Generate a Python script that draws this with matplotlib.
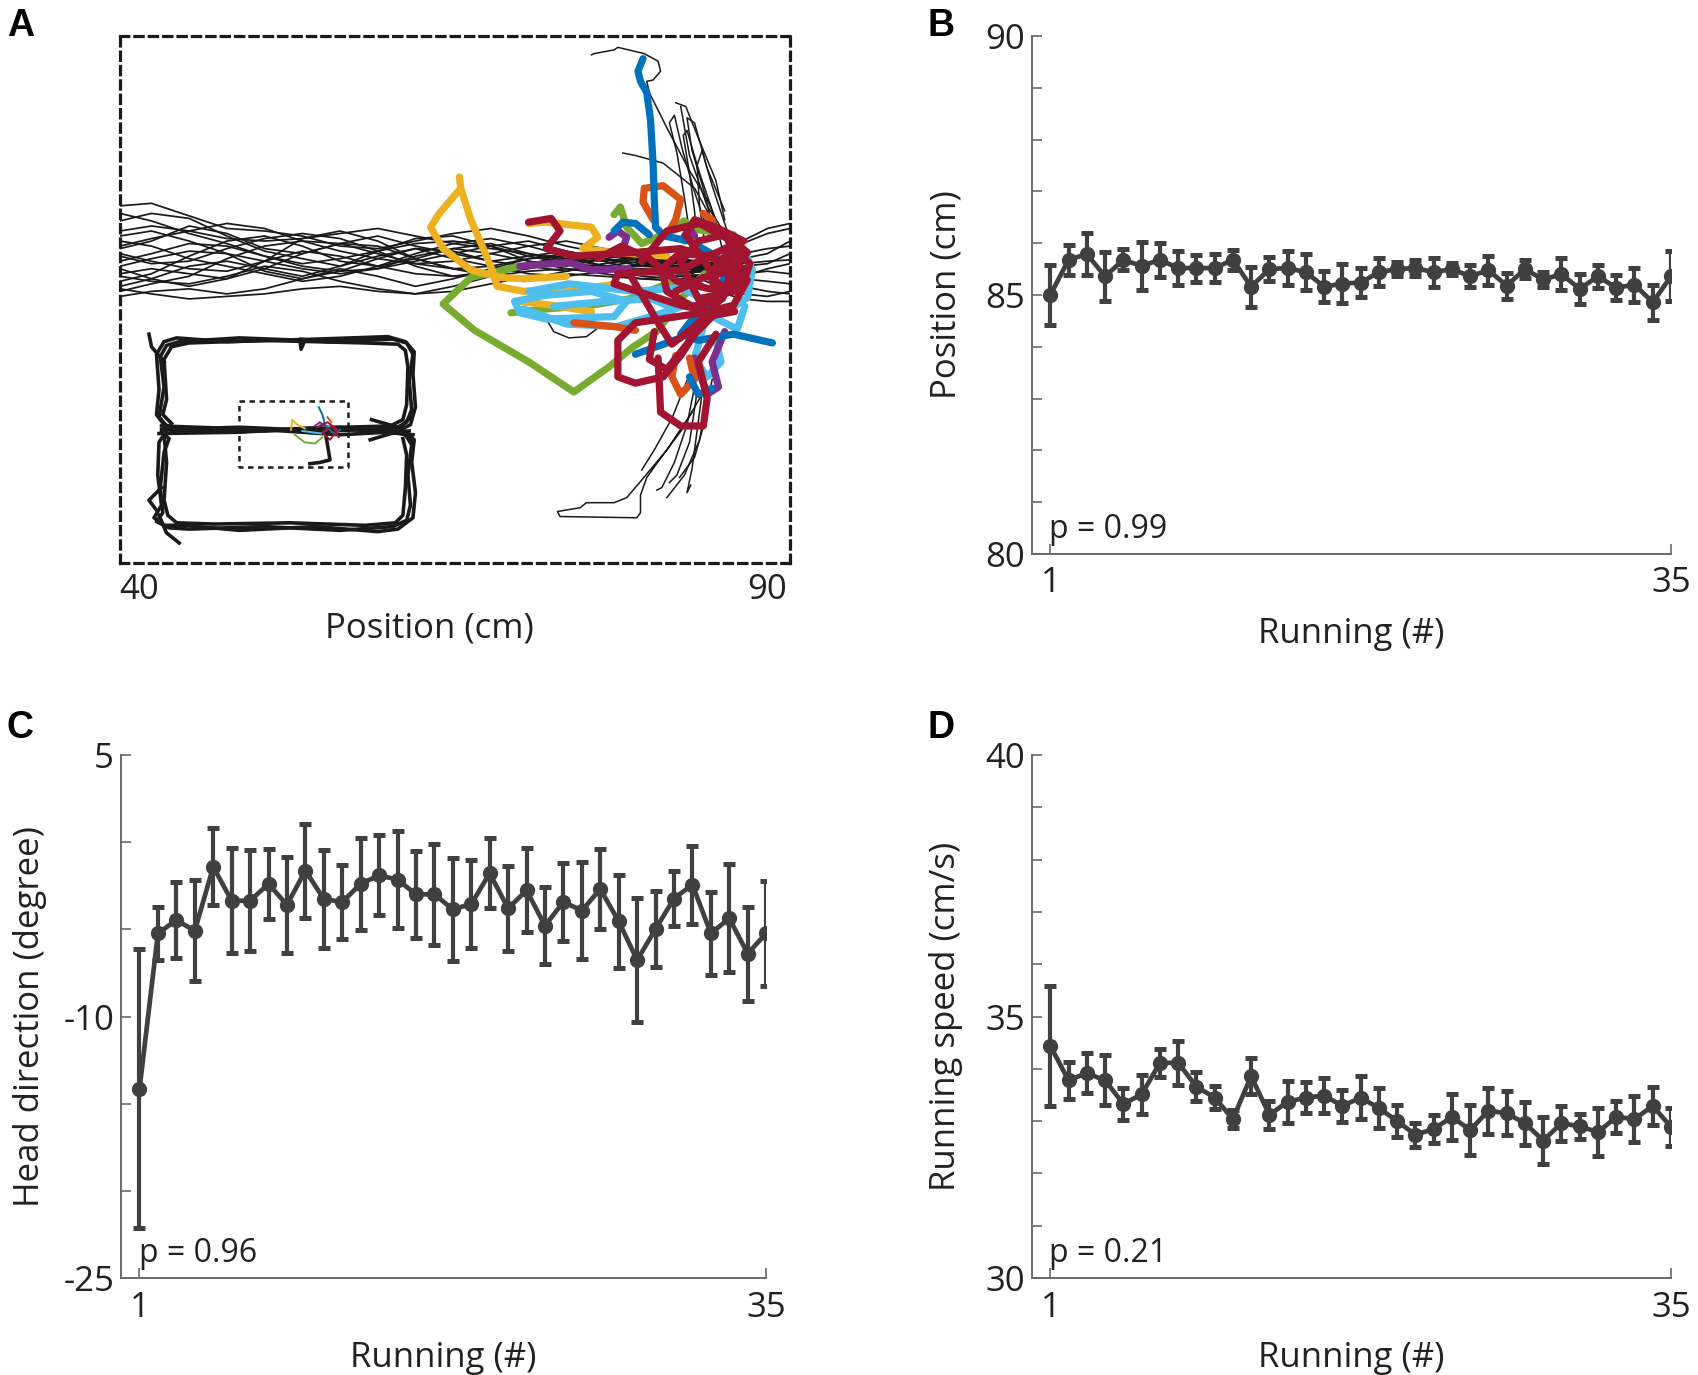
import matplotlib.pyplot as plt

plt.rcParams['font.family'] = ['Open Sans', 'DejaVu Sans']

# ---------------- data: panels B-D (mean +/- sem per run) ----------------
runs = list(range(1, 36))

pos_mean = [85.0, 85.68, 85.79, 85.36, 85.68, 85.56, 85.68, 85.52, 85.52, 85.52,
            85.68, 85.16, 85.5, 85.52, 85.44, 85.16, 85.22, 85.24, 85.44, 85.5,
            85.52, 85.44, 85.5, 85.36, 85.48, 85.18, 85.5, 85.3, 85.4, 85.12,
            85.36, 85.14, 85.2, 84.86, 85.36]
pos_err = [0.57, 0.29, 0.41, 0.47, 0.2, 0.46, 0.33, 0.33, 0.26, 0.27,
           0.19, 0.39, 0.23, 0.33, 0.35, 0.3, 0.38, 0.28, 0.27, 0.13,
           0.16, 0.28, 0.12, 0.21, 0.28, 0.25, 0.18, 0.15, 0.31, 0.29,
           0.22, 0.24, 0.33, 0.34, 0.48]

head_mean = [-14.15, -5.23, -4.47, -5.08, -1.41, -3.36, -3.36, -2.39, -3.6, -1.63,
             -3.26, -3.43, -2.39, -1.9, -2.15, -2.99, -2.99, -3.85, -3.55, -1.78,
             -3.8, -2.76, -4.79, -3.43, -3.92, -2.69, -4.54, -6.76, -4.98, -3.23,
             -2.44, -5.23, -4.37, -6.39, -5.23]
head_err = [8.0, 1.5, 2.2, 2.9, 2.2, 3.0, 2.9, 2.0, 2.75, 2.7,
            2.8, 2.15, 2.65, 2.3, 2.8, 2.5, 2.9, 2.95, 2.5, 2.0,
            2.45, 2.4, 2.2, 2.25, 2.8, 2.3, 2.65, 3.55, 2.2, 1.55,
            2.25, 2.4, 3.1, 2.7, 3.0]

speed_mean = [34.44, 33.78, 33.92, 33.78, 33.33, 33.51, 34.11, 34.12, 33.66, 33.45,
              33.04, 33.86, 33.12, 33.37, 33.45, 33.49, 33.29, 33.45, 33.25, 33.0,
              32.74, 32.85, 33.08, 32.83, 33.2, 33.15, 32.96, 32.63, 32.96, 32.9,
              32.79, 33.08, 33.04, 33.29, 32.89]
speed_err = [1.15, 0.35, 0.38, 0.48, 0.31, 0.37, 0.27, 0.42, 0.28, 0.22,
             0.18, 0.35, 0.27, 0.4, 0.3, 0.33, 0.31, 0.41, 0.38, 0.3,
             0.23, 0.27, 0.44, 0.47, 0.44, 0.42, 0.41, 0.45, 0.33, 0.24,
             0.46, 0.31, 0.44, 0.36, 0.37]

# ---------------- data: panel A trajectories (cm) ----------------
# black runs along the central corridor, sampled at band_x
band_x = [38.5, 41, 44, 47, 50, 53, 56, 59, 62, 65, 68, 71, 74, 77, 80, 83, 86]
band_y = [
    [25.0, 25.6, 26.8, 26.2, 25.0, 24.6, 25.4, 26.0, 25.2, 24.6, 24.0, 24.4, 24.8, 24.2, 23.8, 23.6, 23.4],
    [22.4, 23.0, 24.4, 25.6, 26.0, 25.2, 24.0, 23.6, 24.2, 25.0, 25.4, 24.6, 23.8, 23.6, 24.0, 23.8, 23.2],
    [27.2, 27.8, 27.4, 26.0, 24.8, 24.2, 23.6, 24.4, 25.0, 24.8, 24.0, 23.6, 23.2, 23.8, 24.4, 24.0, 23.6],
    [21.6, 22.2, 22.8, 24.2, 25.2, 25.6, 25.4, 24.6, 23.8, 23.4, 23.6, 24.2, 24.6, 24.0, 23.2, 23.0, 23.3],
    [24.0, 24.6, 25.4, 25.2, 24.4, 23.6, 23.2, 23.4, 24.0, 24.6, 25.2, 25.6, 24.8, 24.2, 23.6, 23.4, 23.5],
    [28.4, 28.6, 27.6, 26.6, 26.4, 26.0, 25.2, 25.0, 25.6, 26.2, 26.6, 26.0, 25.2, 24.6, 24.2, 23.8, 23.6],
    [23.0, 23.4, 23.0, 22.6, 23.4, 24.6, 25.4, 25.2, 24.2, 23.4, 22.8, 22.6, 23.2, 23.8, 24.2, 23.6, 23.1],
    [25.6, 25.2, 24.2, 23.6, 23.0, 22.4, 22.8, 23.6, 24.6, 25.4, 25.8, 25.2, 24.4, 23.6, 23.0, 22.8, 23.0],
    [21.2, 21.6, 21.8, 21.4, 21.8, 22.6, 23.4, 22.8, 22.0, 22.6, 23.4, 24.2, 24.4, 23.6, 22.8, 22.6, 23.0],
    [26.4, 26.8, 26.4, 25.8, 25.6, 25.8, 26.2, 26.6, 26.0, 25.4, 25.0, 24.6, 24.2, 24.0, 24.4, 24.2, 23.8],
    [24.6, 24.0, 23.4, 23.2, 24.0, 24.8, 24.4, 23.6, 23.0, 22.8, 23.2, 23.8, 24.4, 24.8, 24.4, 23.8, 23.4],
    [22.8, 22.4, 22.2, 22.8, 23.6, 23.2, 22.4, 21.8, 21.4, 21.6, 22.2, 22.8, 23.0, 22.8, 22.6, 22.8, 23.0],
    [27.8, 27.2, 26.2, 25.4, 24.4, 23.8, 24.2, 24.8, 25.4, 25.6, 25.2, 24.4, 23.8, 23.4, 23.6, 24.0, 23.7],
    [23.6, 24.2, 24.8, 24.6, 24.0, 23.4, 23.0, 23.4, 24.4, 25.0, 24.6, 24.0, 23.4, 23.2, 23.4, 23.2, 23.2],
    [21.8, 21.4, 21.0, 21.2, 21.4, 21.8, 22.0, 21.6, 21.4, 22.0, 22.8, 23.2, 23.4, 23.0, 22.6, 22.4, 22.8],
    [25.2, 25.8, 26.4, 27.0, 26.6, 25.6, 24.8, 24.2, 23.8, 24.0, 24.6, 25.2, 25.6, 25.0, 24.4, 24.0, 23.8],
    [23.4, 22.6, 22.0, 22.6, 24.0, 25.8, 26.4, 25.6, 24.2, 23.4, 23.0, 23.4, 24.0, 24.6, 24.0, 23.4, 23.2],
    [26.0, 26.4, 25.6, 24.6, 23.2, 22.6, 23.2, 24.2, 25.0, 24.2, 23.6, 23.0, 22.8, 23.2, 23.8, 23.6, 23.4],
    [22.0, 22.6, 23.6, 24.0, 23.4, 22.8, 23.6, 24.8, 25.8, 26.0, 25.2, 24.0, 23.6, 24.2, 24.6, 24.2, 23.6],
    [24.4, 23.8, 24.0, 25.0, 25.8, 26.2, 25.8, 24.8, 23.6, 22.8, 23.0, 23.8, 24.2, 23.6, 23.2, 23.0, 23.3],
]
# black runs leaving the reward zone to the right
exit_x = [84, 86, 88, 90, 91.8]
exit_y = [
    [23.0, 24.2, 25.4, 26.2, 26.6],
    [23.4, 23.8, 24.6, 25.0, 25.2],
    [22.8, 22.4, 22.0, 21.6, 21.4],
    [23.6, 24.6, 25.6, 26.6, 27.0],
    [22.6, 21.6, 21.0, 20.8, 20.8],
    [23.2, 23.4, 23.8, 24.0, 24.1],
    [22.4, 22.8, 22.6, 22.4, 22.2],
    [24.0, 24.4, 24.2, 24.6, 25.6],
    [22.2, 21.8, 21.4, 21.2, 21.6],
    [23.8, 23.0, 23.0, 23.2, 23.0],
    [23.3, 24.0, 23.6, 23.8, 24.6],
    [22.9, 22.0, 22.8, 23.4, 23.8],
]
# black excursions (up / down) around the reward zone
excursions = [
    [(76.0, 40.4), (76.2, 40.5), (77.8, 40.8), (78.1, 41.0), (80.2, 40.5), (81.3, 39.9), (81.5, 39.1),
     (80.9, 38.4), (80.4, 38.3), (80.6, 37.4), (82.0, 34.6), (83.8, 31.2), (85.2, 28.9), (85.9, 27.3)],
    [(78.5, 32.6), (79.5, 32.4), (81.7, 31.8), (84.2, 29.8), (85.6, 27.3)],
    [(82.7, 36.6), (83.5, 36.3), (84.5, 33.8), (85.9, 30.4), (86.6, 27.3)],
    [(83.1, 36.3), (83.8, 32.4), (85.2, 28.4), (86.3, 26.7)],
    [(84.0, 25.0), (83.4, 29.0), (82.8, 32.6), (82.2, 35.0), (82.6, 35.6), (83.2, 33.0), (84.2, 29.5), (85.4, 26.0)],
    [(84.5, 24.5), (84.2, 28.0), (83.8, 31.0), (83.3, 34.0), (83.6, 34.4), (84.6, 31.0), (85.8, 27.5), (86.4, 25.0)],
    [(85.0, 25.5), (84.6, 28.4), (84.4, 31.6), (84.8, 32.8), (85.6, 30.0), (86.8, 26.4)],
    [(84.2, 14.0), (83.6, 11.0), (82.6, 8.0), (81.6, 6.0), (81.2, 5.8)],
    [(84.8, 13.5), (84.4, 10.5), (84.0, 7.5), (83.6, 5.6), (83.9, 6.2)],
    [(83.6, 14.5), (82.4, 11.5), (81.0, 9.0), (80.0, 7.4)],
    [(85.2, 13.0), (84.6, 9.8), (83.4, 7.0), (82.0, 5.2)],
    [(85.6, 14.6), (85.0, 11.2), (84.2, 8.4), (83.0, 6.8)],
    [(85.0, 13.8), (83.2, 10.6), (81.4, 8.2), (80.4, 6.8), (79.9, 5.4), (79.9, 4.0), (79.6, 3.6),
     (73.5, 3.7), (73.3, 4.1), (75.1, 4.4), (75.6, 4.8), (77.8, 4.8), (78.8, 5.2), (80.0, 6.6),
     (82.0, 9.0), (84.0, 12.0)],
    [(72.4, 19.4), (73.0, 18.4), (74.2, 17.9), (75.6, 18.0), (76.4, 18.6)],
    [(85.8, 26.0), (85.0, 29.4), (84.0, 32.8), (83.6, 35.4), (84.2, 35.0), (85.2, 31.4), (86.6, 28.0)],
    [(84.4, 13.6), (83.8, 9.6), (82.8, 7.0), (82.2, 6.4)],
]

# coloured runs (last few laps)
color_runs = {
    '#77AC30': [
        [(70.3, 23.6), (66.4, 22.7), (64.2, 20.6), (66.7, 18.5), (71.0, 16.0), (74.6, 13.6), (77.4, 15.6),
         (79.2, 17.1), (81.3, 18.5), (83.1, 21.0), (85.0, 23.0)],
        [(69.6, 19.9), (72.4, 20.2), (76.0, 20.5), (79.0, 21.0), (82.5, 22.4)],
        [(77.8, 27.7), (78.3, 28.3), (78.8, 26.7), (80.0, 25.4), (83.1, 26.7), (87.3, 26.1), (86.8, 24.0)],
        [(82.4, 26.6), (83.4, 27.2), (84.2, 26.4), (83.4, 25.6)],
    ],
    '#EDB120': [
        [(65.5, 30.7), (65.6, 29.8), (63.9, 27.8), (63.2, 26.7), (64.2, 25.0), (66.4, 23.3), (68.9, 22.7),
         (70.6, 22.6), (74.0, 22.8)],
        [(65.6, 29.8), (66.4, 27.3), (67.4, 25.0), (68.1, 23.3), (68.5, 22.0), (70.6, 21.6), (76.0, 21.9), (78.1, 22.2)],
        [(71.0, 27.0), (72.4, 27.1), (76.0, 26.7), (76.5, 25.9), (75.3, 25.0), (77.8, 24.7), (82.0, 24.4)],
        [(70.3, 20.8), (72.8, 20.5), (76.0, 20.0)],
        [(86.0, 26.4), (87.8, 25.6), (88.4, 24.0)],
    ],
    '#4DBEEE': [
        [(69.9, 20.8), (72.4, 21.3), (76.0, 21.6), (78.8, 20.8), (77.8, 19.6), (72.4, 19.4), (70.3, 19.9), (69.9, 20.8)],
        [(71.0, 21.6), (74.2, 22.2), (79.5, 21.6), (83.1, 21.9), (85.9, 20.5), (84.9, 18.8), (84.2, 16.3),
         (85.2, 14.8), (86.3, 16.0), (85.9, 17.7)],
        [(88.1, 25.0), (88.8, 23.3), (88.4, 21.1), (86.8, 20.0)],
        [(73.0, 20.4), (77.0, 20.8), (80.8, 21.0), (82.6, 20.2)],
        [(70.6, 20.2), (74.0, 19.0), (78.0, 18.8), (81.4, 19.8), (83.8, 20.6), (86.0, 19.4), (87.6, 18.6), (88.2, 20.4)],
    ],
    '#7E2F8E': [
        [(70.3, 23.6), (74.2, 23.9), (76.0, 23.3), (79.0, 23.4)],
        [(77.4, 25.9), (78.1, 26.4), (78.8, 25.9), (78.5, 25.0)],
        [(84.2, 16.3), (85.2, 13.4), (86.1, 14.0), (85.6, 16.0), (86.6, 18.4)],
        [(83.4, 26.0), (83.8, 26.6), (84.2, 26.0)],
    ],
    '#D95319': [
        [(80.9, 27.3), (80.1, 28.7), (80.2, 29.8), (81.7, 30.0), (83.1, 28.9), (82.7, 27.3), (82.0, 26.1)],
        [(74.6, 19.1), (77.8, 18.8), (79.5, 18.5)],
        [(82.7, 16.5), (82.4, 14.8), (83.1, 13.4), (84.2, 14.6), (83.8, 16.3)],
        [(84.9, 27.8), (85.6, 27.3), (85.9, 26.1)],
    ],
    '#0072BD': [
        [(80.1, 40.1), (79.7, 39.1), (79.9, 38.3), (80.4, 37.4), (80.7, 35.2), (80.9, 31.8), (81.0, 28.9),
         (81.1, 26.7), (81.8, 26.0), (83.8, 25.6), (85.9, 24.4), (86.6, 22.7), (85.6, 21.0), (84.2, 19.6),
         (83.1, 18.2), (84.5, 17.7), (87.3, 18.2), (90.4, 17.5)],
        [(79.5, 16.6), (80.9, 17.1), (83.1, 17.9)],
        [(77.8, 26.4), (78.5, 27.1), (79.5, 27.0), (80.6, 26.1)],
        [(83.8, 14.8), (84.5, 13.4), (85.6, 13.9)],
    ],
    '#A2142F': [
        [(71.0, 27.1), (72.8, 27.4), (73.5, 26.4), (72.4, 25.0), (74.6, 24.4), (79.5, 24.7), (83.1, 25.0),
         (86.6, 23.9), (88.4, 22.5), (87.3, 20.5), (84.9, 19.9)],
        [(84.9, 19.9), (79.5, 19.1), (78.1, 17.7), (78.1, 14.8), (79.5, 14.3), (81.7, 14.8), (83.1, 16.5),
         (84.2, 18.2), (85.9, 19.9), (83.1, 20.5), (77.8, 22.2), (78.1, 23.0), (83.1, 23.3), (86.6, 25.0),
         (88.1, 25.6), (85.9, 26.7), (84.2, 27.3), (83.5, 26.1), (84.5, 24.7)],
        [(81.3, 16.3), (81.5, 12.0), (83.1, 10.9), (84.9, 10.9), (85.2, 13.1), (84.5, 16.0), (85.9, 18.2)],
        [(82.7, 21.6), (84.9, 22.7), (87.3, 23.3), (88.4, 24.7), (86.6, 26.1), (84.5, 25.6), (83.1, 23.9),
         (84.5, 21.0), (87.3, 21.6), (88.1, 23.3)],
        [(79.2, 22.7), (80.2, 21.0), (81.3, 19.1), (82.4, 17.4), (84.2, 18.8), (86.3, 21.0), (87.0, 22.7)],
        [(85.0, 24.0), (86.2, 22.0), (87.6, 22.4), (86.8, 24.6), (85.4, 23.0), (86.0, 21.4)],
        [(80.0, 24.0), (82.0, 26.4), (84.6, 27.0), (86.8, 25.8), (87.8, 23.6), (86.4, 21.0), (84.0, 20.4),
         (82.0, 21.6), (81.6, 23.4), (83.0, 24.6), (85.6, 24.4), (87.0, 22.8)],
        [(76.5, 24.2), (78.4, 25.2), (80.6, 24.2), (82.8, 22.4), (85.4, 21.8), (88.0, 22.0), (88.6, 23.8), (87.2, 25.2)],
        [(81.0, 18.4), (80.6, 16.2), (82.0, 15.4), (83.6, 17.4), (85.2, 19.6), (87.4, 20.0)],
    ],
}

# inset: the whole maze (figure-eight track)
maze_runs = [
    [(41.8, 10.6), (48.0, 10.8), (55.0, 10.5), (60.4, 10.7), (61.3, 11.2), (61.7, 12.2), (61.5, 14.5),
     (61.8, 16.6), (61.3, 17.5), (60.2, 17.8), (55.0, 17.6), (52.8, 17.8), (52.9, 17.0), (53.2, 17.7),
     (48.0, 17.9), (43.2, 17.6), (42.2, 17.3), (41.7, 16.4), (42.0, 14.0), (41.6, 11.6), (42.3, 10.8), (43.4, 10.5)],
    [(42.5, 10.4), (50.0, 10.5), (56.0, 10.8), (60.6, 10.5), (61.6, 11.0), (62.0, 12.4), (61.8, 15.0),
     (61.9, 16.8), (61.2, 17.6), (59.8, 18.0), (54.0, 17.8), (47.0, 17.6), (43.0, 17.9), (42.0, 17.6),
     (41.4, 16.6), (41.6, 13.8), (41.4, 11.8), (42.0, 11.0), (43.2, 10.7)],
    [(42.0, 10.8), (47.0, 10.4), (53.0, 10.7), (60.0, 10.9), (61.0, 11.4), (61.3, 12.6), (61.4, 15.6),
     (61.2, 16.9), (60.6, 17.4), (58.0, 17.5), (50.0, 17.7), (44.0, 17.5), (42.6, 17.2), (42.0, 16.2),
     (42.2, 13.0), (41.9, 11.8), (42.6, 11.1)],
    [(41.8, 10.4), (42.4, 9.9), (42.0, 8.8), (41.7, 6.0), (41.9, 4.0), (41.4, 3.3), (42.4, 2.8), (44.0, 2.7),
     (50.0, 2.9), (56.0, 2.6), (60.2, 2.9), (61.3, 3.4), (61.6, 4.6), (61.4, 7.0), (61.7, 9.4), (61.2, 10.2), (60.0, 10.5)],
    [(42.3, 10.7), (41.6, 9.6), (41.5, 7.0), (41.8, 4.6), (41.2, 3.6), (42.0, 3.0), (43.6, 3.0), (48.0, 2.6),
     (54.0, 2.9), (59.0, 2.5), (60.6, 2.7), (61.8, 3.6), (62.0, 5.6), (61.7, 8.0), (61.9, 9.8), (61.0, 10.6)],
    [(42.0, 10.2), (42.2, 8.0), (42.0, 5.0), (42.3, 3.8), (43.0, 3.2), (46.0, 3.1), (52.0, 3.2), (58.0, 3.0),
     (60.4, 3.2), (61.0, 3.8), (61.2, 6.0), (61.3, 8.6), (61.0, 9.9)],
    [(41.8, 10.9), (50.0, 10.6), (56.0, 10.2), (61.5, 10.5)],
    [(41.6, 10.3), (48.0, 10.4), (55.0, 10.8), (61.8, 10.2)],
    [(42.0, 16.0), (41.0, 17.2), (40.8, 18.2)],
    [(41.6, 3.8), (42.2, 2.4), (43.2, 1.6)],
    [(41.8, 6.0), (40.8, 5.0), (41.4, 4.2)],
    [(58.5, 11.4), (60.6, 10.8), (61.8, 9.6)],
    [(58.4, 9.8), (60.4, 10.4), (61.6, 11.6)],
    [(54.8, 10.6), (55.0, 9.4), (55.2, 8.2), (54.4, 8.0), (53.6, 7.9)],
]
inset_runs = {
    '#EDB120': [(52.1, 10.6), (52.2, 11.4), (52.6, 11.0), (53.2, 10.7)],
    '#77AC30': [(52.4, 10.2), (53.2, 9.6), (54.0, 9.5), (54.6, 10.0)],
    '#4DBEEE': [(53.0, 10.5), (54.5, 10.3), (55.2, 10.8), (54.4, 11.0)],
    '#0072BD': [(54.3, 12.4), (54.6, 11.8), (54.8, 11.0), (55.6, 10.2), (56.0, 10.6)],
    '#7E2F8E': [(54.0, 10.9), (54.4, 11.2), (54.8, 10.9)],
    '#D95319': [(55.0, 11.6), (55.3, 11.2)],
    '#A2142F': [(54.2, 10.8), (55.0, 11.2), (55.8, 10.6), (55.2, 9.8), (54.6, 10.4), (55.4, 10.9), (55.9, 10.0)],
}
zoom_box_x = [48.0, 56.6, 56.6, 48.0, 48.0]
zoom_box_y = [12.9, 12.9, 7.6, 7.6, 12.9]

# ---------------- figure ----------------
fig = plt.figure(figsize=(16.98, 13.75), dpi=100)
axA = fig.add_axes([0.0707, 0.5905, 0.3946, 0.3833])
axB = fig.add_axes([0.6078, 0.5971, 0.3763, 0.3767])
axC = fig.add_axes([0.0713, 0.0705, 0.3799, 0.3804])
axD = fig.add_axes([0.6078, 0.0705, 0.3763, 0.3804])

DARK = '#404040'
AXC = '#6a6a6a'
TXT = '#222222'

# panel A
for ys in band_y:
    axA.plot(band_x, ys, color='#1a1a1a', lw=1.25)
for ys in exit_y:
    axA.plot(exit_x, ys, color='#1a1a1a', lw=1.25)
for tr in excursions:
    axA.plot([p[0] for p in tr], [p[1] for p in tr], color='#1a1a1a', lw=1.1)
for col, runs_c in color_runs.items():
    for tr in runs_c:
        axA.plot([p[0] for p in tr], [p[1] for p in tr], color=col, lw=5.2,
                 solid_capstyle='round', solid_joinstyle='round')
for tr in maze_runs:
    axA.plot([p[0] for p in tr], [p[1] for p in tr], color='#1a1a1a', lw=2.6,
             solid_joinstyle='round')
for col, tr in inset_runs.items():
    axA.plot([p[0] for p in tr], [p[1] for p in tr], color=col, lw=1.4)
axA.plot(zoom_box_x, zoom_box_y, color='#1a1a1a', lw=1.8, ls=(0, (2.2, 1.8)))

axA.set_xlim(38.5, 91.8)
axA.set_ylim(0, 41.9)
for s in axA.spines.values():
    s.set_linestyle((0, (2.6, 1.9)))
    s.set_linewidth(2.3)
    s.set_color('#1a1a1a')
axA.set_xticks([40, 90])
axA.set_xticklabels(['40', '90'])
axA.set_yticks([])
axA.tick_params(axis='x', length=0, pad=7, labelsize=25, colors=TXT)
axA.set_xlabel('Position (cm)', fontsize=25, color=TXT)
axA.xaxis.set_label_coords(0.461, -0.092, transform=axA.transAxes)
axA.xaxis.label.set_va('top')


def line_panel(ax, mean, err, ylim, yticks, ylabels, ylabel, ptext):
    ax.errorbar(runs, mean, yerr=err, color=DARK, lw=3.4, elinewidth=3.0,
                marker='o', ms=10, capsize=4.5, capthick=3.6)
    ax.set_xlim(0.0, 35)
    ax.set_ylim(*ylim)
    ax.set_xticks([1, 35])
    ax.set_xticklabels(['1', '35'])
    ax.set_yticks(yticks)
    ax.set_yticklabels(ylabels)
    for side in ['top', 'right']:
        ax.spines[side].set_visible(False)
    for side in ['left', 'bottom']:
        ax.spines[side].set_color(AXC)
        ax.spines[side].set_linewidth(1.4)
    ax.tick_params(direction='in', length=7, width=1.2, color=AXC,
                   labelsize=25, labelcolor=TXT)
    ax.tick_params(axis='x', pad=9)
    ax.tick_params(axis='y', pad=5)
    ax.set_xlabel('Running (#)', fontsize=25, color=TXT, labelpad=12)
    ax.set_ylabel(ylabel, fontsize=25, color=TXT, labelpad=16)
    ax.text(0.95, 0.03, ptext, transform=ax.get_xaxis_transform(),
            fontsize=23, color=TXT, ha='left', va='baseline')


line_panel(axB, pos_mean, pos_err, (80, 90), list(range(80, 91)),
           ['80', '', '', '', '', '85', '', '', '', '', '90'],
           'Position (cm)', 'p = 0.99')
line_panel(axC, head_mean, head_err, (-25, 5), [-25, -20, -15, -10, -5, 0, 5],
           ['-25', '', '', '-10', '', '', '5'],
           'Head direction (degree)', 'p = 0.96')
line_panel(axD, speed_mean, speed_err, (30, 40), list(range(30, 41)),
           ['30', '', '', '', '', '35', '', '', '', '', '40'],
           'Running speed (cm/s)', 'p = 0.21')
axC.yaxis.labelpad = 12

for letter, x, y in [('A', 0.004, 0.994), ('B', 0.546, 0.994),
                     ('C', 0.004, 0.484), ('D', 0.546, 0.484)]:
    fig.text(x, y, letter, fontsize=27, fontweight='bold',
             family='Liberation Sans', va='top', ha='left')

fig.savefig('out.png', dpi=100)
